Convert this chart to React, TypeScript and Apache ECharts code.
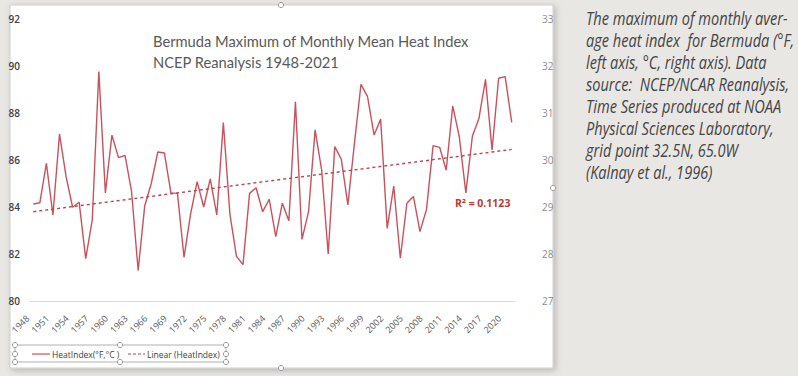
import React, { useEffect, useRef } from "react";
import * as echarts from "echarts";

const years: string[] = Array.from({ length: 74 }, (_, i) => String(1948 + i));

const heatIndex: number[] = [
  84.13, 84.18, 85.86, 83.66, 87.1, 85.3, 83.99, 84.2, 81.8, 83.45,
  89.76, 84.6, 87.06, 86.1, 86.2, 84.65, 81.3, 84.04, 85.0, 86.34,
  86.3, 84.6, 84.58, 81.86, 83.7, 85.08, 84.0, 85.2, 83.66, 87.59,
  83.7, 81.9, 81.55, 84.58, 84.82, 83.8, 84.33, 82.74, 84.16, 83.42,
  88.48, 82.62, 83.8, 87.28, 85.57, 82.0, 86.57, 86.03, 84.09, 86.7,
  89.22, 88.7, 87.06, 87.74, 83.09, 84.89, 81.82, 84.16, 84.45, 82.95,
  83.9, 86.61, 86.54, 85.57, 88.3, 86.99, 84.6, 87.02, 87.77, 89.43,
  86.43, 89.48, 89.55, 87.6,
];

const trendYears: string[] = ["1948", "2021"];
const trendValues: number[] = [83.8, 86.45];

const leftTicks = { min: 80, max: 92, interval: 2 };
const rightTicks = { min: 27, max: 33, interval: 1 };

const titleLines: string[] = [
  "Bermuda Maximum of Monthly Mean Heat Index",
  "NCEP Reanalysis 1948-2021",
];
const r2Label = "R² = 0.1123";
const legendLabels: string[] = ["HeatIndex(°F,°C )", "Linear (HeatIndex)"];
const captionLines: string[] = [
  "The maximum of monthly aver-",
  "age heat index  for Bermuda (°F,",
  "left axis, °C, right axis). Data",
  "source:  NCEP/NCAR Reanalysis,",
  "Time Series produced at NOAA",
  "Physical Sciences Laboratory,",
  "grid point 32.5N, 65.0W",
  "(Kalnay et al., 1996)",
];

const LINE_COLOR = "#c9515c";
const TREND_COLOR = "#c23f4e";

function handle(x: number, y: number) {
  return {
    type: "circle",
    shape: { cx: x, cy: y, r: 2.6 },
    style: { fill: "#ffffff", stroke: "#9a9a9a", lineWidth: 1 },
    z: 20,
  };
}

export default function App() {
  const ref = useRef<HTMLDivElement | null>(null);

  useEffect(() => {
    if (!ref.current) return;
    const chart = echarts.init(ref.current, undefined, { renderer: "svg" });

    const legendY = 354;
    const option: any = {
      animation: false,
      backgroundColor: "#e9e7e4",
      grid: { left: 30, right: 283, top: 19, bottom: 75, containLabel: false },
      xAxis: {
        type: "category",
        data: years,
        boundaryGap: true,
        axisLine: { show: true, lineStyle: { color: "#d9d9d9", width: 1 } },
        axisTick: { show: false },
        axisLabel: {
          interval: 2,
          rotate: 45,
          fontSize: 9,
          color: "#595959",
          fontFamily: "Open Sans",
          margin: 10,
          padding: [0, 8, 0, 0],
        },
        splitLine: { show: false },
      },
      yAxis: [
        {
          type: "value",
          min: leftTicks.min,
          max: leftTicks.max,
          interval: leftTicks.interval,
          axisLine: { show: false },
          axisTick: { show: false },
          splitLine: { show: false },
          axisLabel: {
            fontSize: 10,
            fontWeight: 600,
            color: "#404040",
            fontFamily: "Open Sans",
            margin: 10,
          },
        },
        {
          type: "value",
          position: "right",
          min: rightTicks.min,
          max: rightTicks.max,
          interval: rightTicks.interval,
          axisLine: { show: false },
          axisTick: { show: false },
          splitLine: { show: false },
          axisLabel: {
            fontSize: 10,
            color: "#8c8c8c",
            fontFamily: "Open Sans",
            margin: 27,
          },
        },
      ],
      series: [
        {
          name: legendLabels[0],
          type: "line",
          data: heatIndex,
          yAxisIndex: 0,
          symbol: "none",
          lineStyle: { color: LINE_COLOR, width: 1.4 },
          z: 3,
        },
        {
          name: legendLabels[1],
          type: "line",
          data: trendYears.map((y, i) => [y, trendValues[i]]),
          yAxisIndex: 0,
          symbol: "none",
          lineStyle: { color: TREND_COLOR, width: 1.4, type: [3, 3] },
          z: 4,
        },
      ],
      graphic: [
        {
          type: "rect",
          shape: { x: 10, y: 5, width: 543, height: 363 },
          style: {
            fill: "#ffffff",
            stroke: "#cfcfcf",
            lineWidth: 1,
            shadowBlur: 6,
            shadowOffsetX: 2,
            shadowOffsetY: 2,
            shadowColor: "rgba(0,0,0,0.22)",
          },
          z: -100,
          silent: true,
        },
        {
          type: "text",
          x: 153,
          y: 30,
          scaleX: 0.92,
          style: {
            text: titleLines.join("\n"),
            fontSize: 16,
            lineHeight: 21,
            fontFamily: "Lato",
            fill: "#595959",
          },
          z: 10,
        },
        {
          type: "text",
          x: 455,
          y: 197,
          style: {
            text: r2Label,
            fontSize: 10.5,
            fontWeight: "bold",
            fontFamily: "Open Sans",
            fill: "#c0392b",
          },
          z: 10,
        },
        {
          type: "rect",
          shape: { x: 15, y: 345, width: 211, height: 17 },
          style: { fill: "none", stroke: "#b0b0b0", lineWidth: 1 },
          z: 10,
        },
        {
          type: "line",
          shape: { x1: 32, y1: legendY, x2: 50, y2: legendY },
          style: { stroke: LINE_COLOR, lineWidth: 1.2 },
          z: 11,
        },
        {
          type: "text",
          x: 52,
          y: legendY,
          style: {
            text: legendLabels[0],
            fontSize: 8.5,
            fontFamily: "Open Sans",
            fill: "#404040",
            verticalAlign: "middle",
          },
          z: 11,
        },
        {
          type: "line",
          shape: { x1: 128, y1: legendY, x2: 145, y2: legendY },
          style: { stroke: TREND_COLOR, lineWidth: 1.2, lineDash: [3, 2] },
          z: 11,
        },
        {
          type: "text",
          x: 147,
          y: legendY,
          style: {
            text: legendLabels[1],
            fontSize: 8.5,
            fontFamily: "Open Sans",
            fill: "#404040",
            verticalAlign: "middle",
          },
          z: 11,
        },
        handle(15, 345),
        handle(120, 345),
        handle(226, 345),
        handle(15, 354),
        handle(226, 354),
        handle(15, 362),
        handle(120, 362),
        handle(226, 362),
        handle(281, 5),
        handle(281, 368),
        handle(553, 188),
        {
          type: "text",
          x: 586,
          y: 7,
          scaleX: 0.81,
          style: {
            text: captionLines.join("\n"),
            fontSize: 18,
            lineHeight: 22,
            fontStyle: "italic",
            fontFamily: "Open Sans",
            fill: "#444444",
          },
          z: 10,
        },
      ],
    };

    chart.setOption(option);
    return () => {
      chart.dispose();
    };
  }, []);

  return (
    <div
      ref={ref}
      style={{ position: "fixed", left: 0, top: 0, width: 798, height: 376 }}
    />
  );
}
